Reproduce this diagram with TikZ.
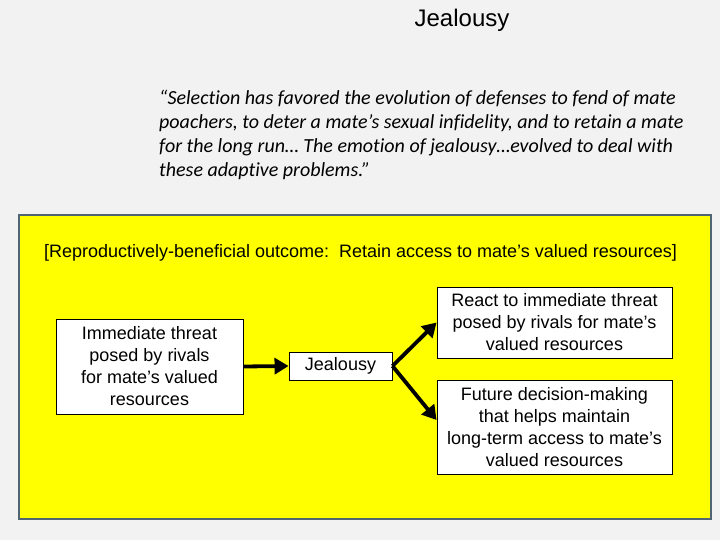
\documentclass[tikz,border=0pt]{standalone}
\usepackage{fontspec}
\setmainfont{Liberation Sans}
\newfontfamily\quotefont[Ligatures=NoCommon]{Carlito}
\usetikzlibrary{arrows.meta}
\definecolor{bggray}{RGB}{242,242,242}
\definecolor{frameblue}{RGB}{80,100,115}
\definecolor{yel}{RGB}{255,255,0}
\tikzset{
  wbox/.style={draw=black, line width=0.9pt, fill=white, align=center, inner sep=0pt,
    font=\fontsize{18}{22}\selectfont},
  bigarrow/.style={line width=3.8pt, -{Triangle[length=14pt,width=16pt]}},
  quoteline/.style={anchor=base west, inner sep=0pt, font=\quotefont\itshape\fontsize{20}{24}\selectfont}
}
\begin{document}
\begin{tikzpicture}[x=1pt,y=-1pt]
\fill[bggray] (0,0) rectangle (720,540);
\useasboundingbox (0,0) rectangle (720,540);
\node[anchor=base, inner sep=0pt, font=\fontsize{24}{28}\selectfont] (title) at (462,27) {Jealousy};
\node[quoteline] (q1) at (159,105) {“Selection has favored the evolution of defenses to fend of mate};
\node[quoteline] (q2) at (159,129) {poachers, to deter a mate’s sexual infidelity, and to retain a mate};
\node[quoteline] (q3) at (159,153) {for the long run… The emotion of jealousy…evolved to deal with};
\node[quoteline] (q4) at (159,177) {these adaptive problems.”};
\draw[frameblue, line width=2.5pt, fill=yel] (19,215) rectangle (711,519);
\node[anchor=base, inner sep=0pt, font=\fontsize{18}{22}\selectfont] (outcome) at (360.5,258)
  {[Reproductively-beneficial outcome:\ \ Retain access to mate’s valued resources]};
\node[wbox, minimum width=187pt, minimum height=95pt] (threat) at (149.5,366.5)
  {Immediate threat\\posed by rivals\\for mate’s valued\\resources};
\node[wbox, minimum width=103pt, minimum height=28pt] (jeal) at (340.5,366) {Jealousy};
\node[wbox, minimum width=235pt, minimum height=71pt] (react) at (554.5,322.5)
  {React to immediate threat\\posed by rivals for mate’s\\valued resources};
\node[wbox, minimum width=235pt, minimum height=94pt] (future) at (554.5,427)
  {Future decision-making\\that helps maintain\\long-term access to mate’s\\valued resources};
\coordinate (fin) at ([yshift=7pt]future.west);
\draw[bigarrow] (threat.east) -- (jeal.west);
\draw[bigarrow] (jeal.east) -- (react.west);
\draw[bigarrow] (jeal.east) -- (fin);
\end{tikzpicture}
\end{document}
